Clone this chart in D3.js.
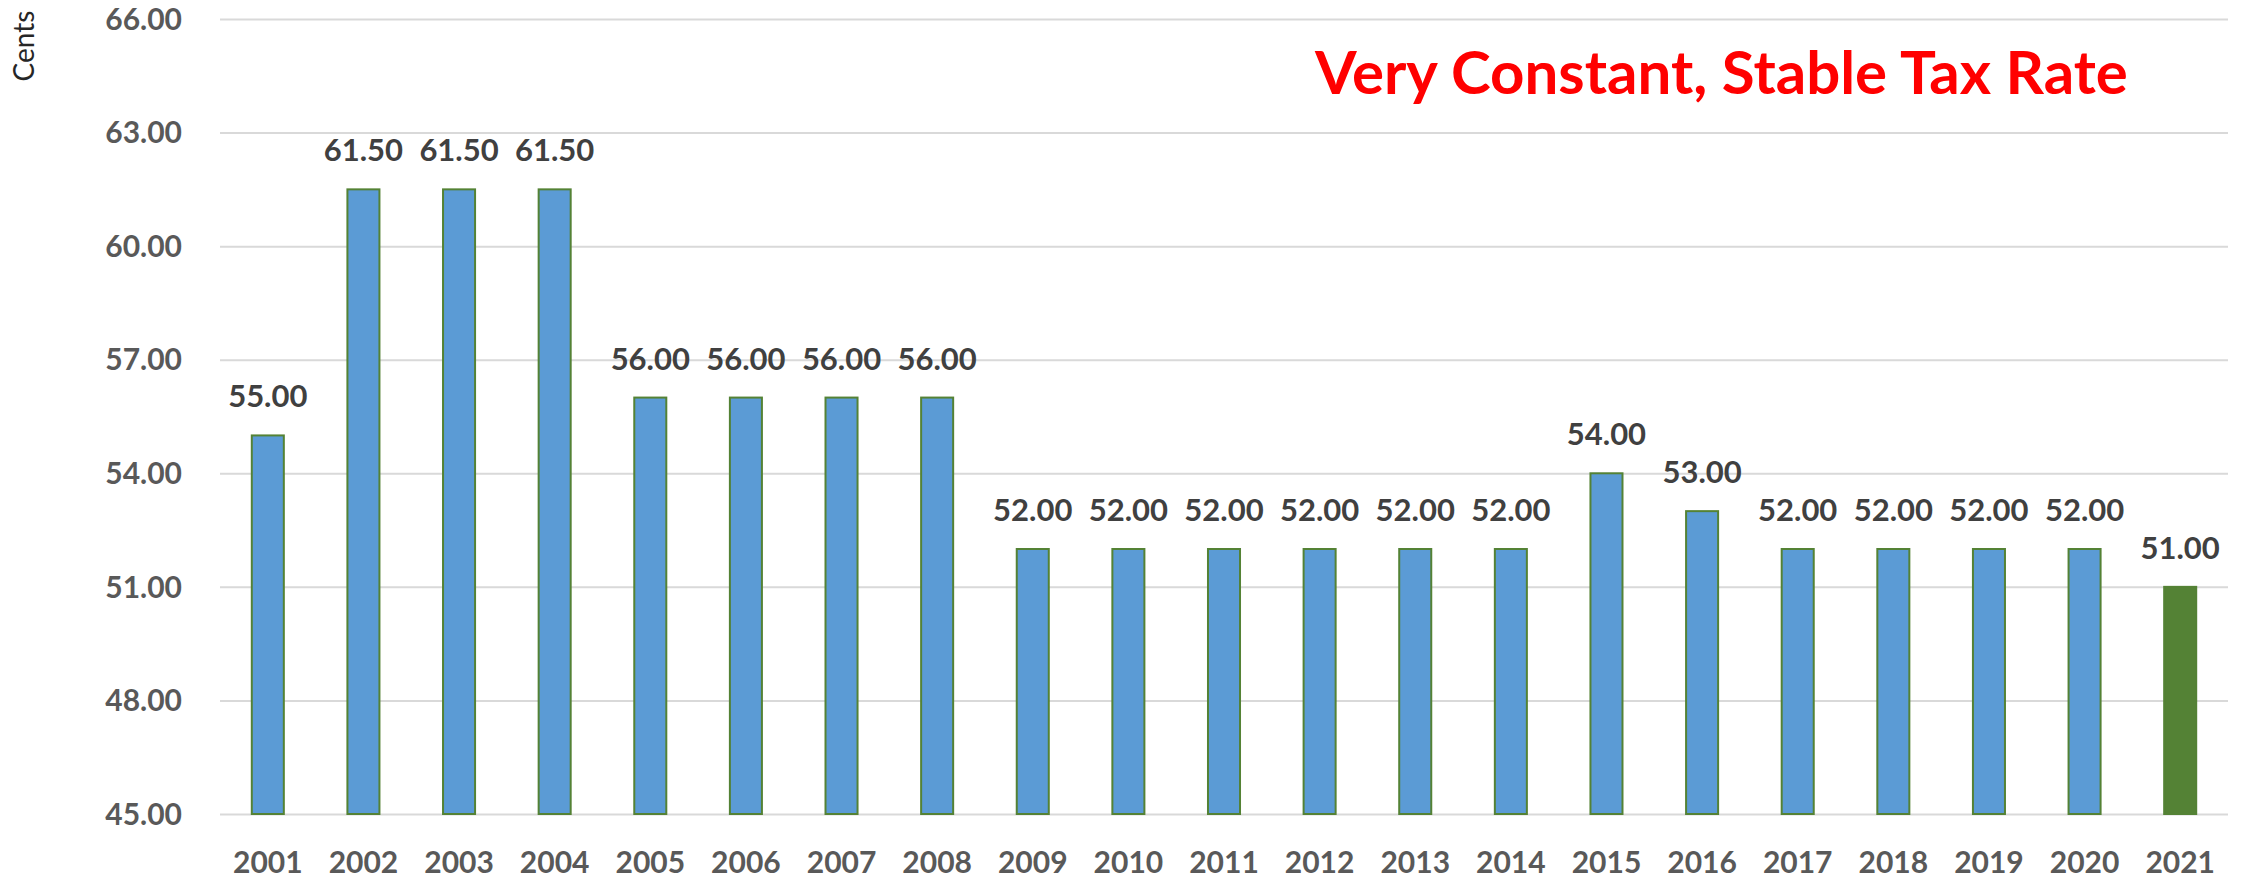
<!DOCTYPE html>
<html>
<head>
<meta charset="utf-8">
<script src="https://cdn.jsdelivr.net/npm/d3@7"></script>
<style>
  html, body { margin: 0; padding: 0; background: #fff; }
  svg { display: block; font-family: Lato, "Open Sans", sans-serif; }
  .axis text { fill: #595959; font-family: Lato, "Open Sans", sans-serif; font-weight: bold; font-size: 30px; }
  .grid line { stroke: #d9d9d9; stroke-width: 2; }
  .bar-label { fill: #404040; font-weight: bold; font-size: 31px; text-anchor: middle; }
</style>
</head>
<body>
<div id="chart"></div>
<script>
// chart values
const years = ['2001', '2002', '2003', '2004', '2005', '2006', '2007', '2008', '2009', '2010', '2011',
               '2012', '2013', '2014', '2015', '2016', '2017', '2018', '2019', '2020', '2021'];
const rates = [55.00, 61.50, 61.50, 61.50, 56.00, 56.00, 56.00, 56.00, 52.00, 52.00, 52.00,
               52.00, 52.00, 52.00, 54.00, 53.00, 52.00, 52.00, 52.00, 52.00, 51.00];
const yTicks = [45, 48, 51, 54, 57, 60, 63, 66];
const highlightYear = '2021';
const titleText = 'Very Constant, Stable Tax Rate';
const yAxisTitle = 'Cents';

class TaxRateChart {
    constructor() {
        this.margin = { top: 19, right: 21, bottom: 69, left: 220 };
        this.width = 2249 - this.margin.left - this.margin.right;
        this.height = 883 - this.margin.top - this.margin.bottom;
        this.drawChart();
    }

    drawChart() {
        const data = years.map((y, i) => ({ year: y, value: rates[i] }));

        this.svg = d3.select('#chart')
            .append('svg')
            .attr('width', 2249)
            .attr('height', 883);

        const g = this.svg.append('g')
            .attr('transform', 'translate(' + this.margin.left + ',' + this.margin.top + ')');

        const x = d3.scaleBand()
            .domain(years)
            .range([0, this.width])
            .paddingInner(0.665)
            .paddingOuter(0.3325);

        const y = d3.scaleLinear()
            .domain([45, 66])
            .range([this.height, 0]);

        // gridlines + y tick labels
        const yAxis = g.append('g')
            .attr('class', 'axis grid')
            .call(d3.axisLeft(y)
                .tickValues(yTicks)
                .tickFormat(d3.format('.2f'))
                .tickSize(-this.width)
                .tickPadding(38));
        yAxis.select('.domain').remove();
        yAxis.selectAll('text').attr('dy', '0.34em');

        // x axis labels
        const xAxis = g.append('g')
            .attr('class', 'axis')
            .attr('transform', 'translate(0,' + this.height + ')')
            .call(d3.axisBottom(x).tickSize(0).tickPadding(38));
        xAxis.select('.domain').remove();

        // bars
        g.selectAll('rect.bar')
            .data(data)
            .enter()
            .append('rect')
            .attr('class', 'bar')
            .attr('x', d => x(d.year))
            .attr('y', d => y(d.value))
            .attr('width', x.bandwidth())
            .attr('height', d => this.height - y(d.value))
            .attr('fill', d => d.year === highlightYear ? '#548235' : '#5b9bd5')
            .attr('stroke', '#548235')
            .attr('stroke-width', 2);

        // value labels
        g.selectAll('text.bar-label')
            .data(data)
            .enter()
            .append('text')
            .attr('class', 'bar-label')
            .attr('x', d => x(d.year) + x.bandwidth() / 2)
            .attr('y', d => y(d.value) - 28)
            .text(d => d3.format('.2f')(d.value));

        // y axis title
        this.svg.append('text')
            .text(yAxisTitle)
            .attr('font-size', 28)
            .attr('fill', '#262626')
            .attr('text-anchor', 'middle')
            .attr('transform', 'translate(34, 46) rotate(-90)');

        // headline
        const title = this.svg.append('text')
            .text(titleText)
            .attr('x', 1315)
            .attr('y', 94)
            .attr('fill', '#ff0000')
            .attr('font-weight', 'bold')
            .attr('font-size', 56);
        const w = title.node().getComputedTextLength();
        title.attr('font-size', 56 * 813 / w);
    }
}

new TaxRateChart();
</script>
</body>
</html>
